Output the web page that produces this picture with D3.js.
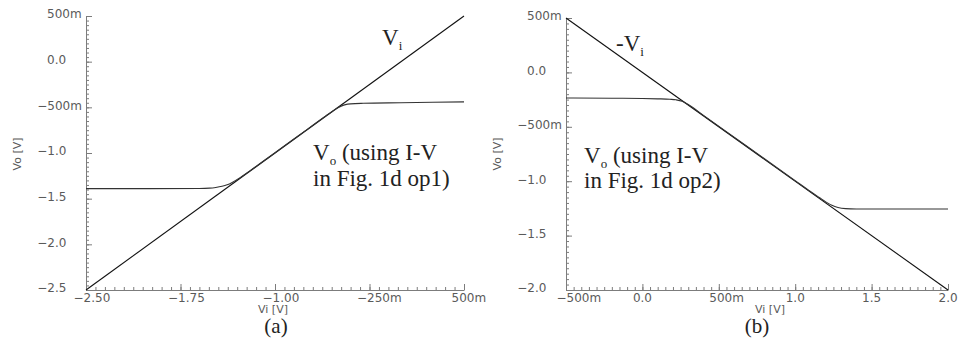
<!DOCTYPE html>
<html><head><meta charset="utf-8">
<script src="https://cdn.jsdelivr.net/npm/d3@7"></script>
<style>
html,body{margin:0;padding:0;background:#fff;}
svg{display:block;}
</style></head>
<body>
<svg id="c" width="962" height="351"></svg>
<script>
// ---- Panel (a) data ----
const aRefX = [-2.5, 0.5];
const aRefY = [-2.5, 0.5];
const aVoX = [-2.5, -2.0, -1.6, -1.52, -1.47, -1.42, -1.38, -1.34, -1.28, -1.2, -1.0, -0.8, -0.6, -0.54, -0.5, -0.47, -0.44, -0.4, -0.3, 0.0, 0.25, 0.5];
const aVoY = [-1.39, -1.39, -1.388, -1.385, -1.378, -1.365, -1.348, -1.322, -1.272, -1.196, -0.997, -0.797, -0.597, -0.54, -0.505, -0.484, -0.47, -0.462, -0.456, -0.45, -0.445, -0.44];
const aXTicks = [-2.5, -1.75, -1.0, -0.25, 0.5];
const aXLabels = ["\u22122.50", "\u22121.75", "\u22121.00", "\u2212250m", "500m"];
const aYTicks = [-2.5, -2.0, -1.5, -1.0, -0.5, 0.0, 0.5];
const aYLabels = ["\u22122.5", "\u22122.0", "\u22121.5", "\u22121.0", "\u2212500m", "0.0", "500m"];

// ---- Panel (b) data ----
const bRefX = [-0.5, 2.0];
const bRefY = [0.5, -2.0];
const bVoX = [-0.5, -0.2, 0.0, 0.1, 0.18, 0.22, 0.26, 0.3, 0.4, 0.7, 1.0, 1.1, 1.16, 1.2, 1.24, 1.28, 1.33, 1.4, 1.6, 2.0];
const bVoY = [-0.235, -0.237, -0.24, -0.243, -0.247, -0.252, -0.265, -0.295, -0.395, -0.695, -0.995, -1.095, -1.152, -1.19, -1.222, -1.242, -1.252, -1.255, -1.256, -1.256];
const bXTicks = [-0.5, 0.0, 0.5, 1.0, 1.5, 2.0];
const bXLabels = ["\u2212500m", "0.0", "500m", "1.0", "1.5", "2.0"];
const bYTicks = [-2.0, -1.5, -1.0, -0.5, 0.0, 0.5];
const bYLabels = ["\u22122.0", "\u22121.5", "\u22121.0", "\u2212500m", "0.0", "500m"];

const svg = d3.select("#c");
const AX = "#7c7c7c", LBL = "#5a5a5a";

function minorTicks(lo, hi, step){
  const out=[]; const n=Math.round((hi-lo)/step);
  for(let i=0;i<=n;i++) out.push(+(lo+i*step).toFixed(6));
  return out;
}

function panel(cfg){
  const x = d3.scaleLinear().domain(cfg.xd).range(cfg.xr);
  const y = d3.scaleLinear().domain(cfg.yd).range(cfg.yr);
  const g = svg.append("g");
  const y0 = cfg.yr[0], x0 = cfg.xr[0];

  // minor ticks
  g.append("g").attr("transform",`translate(0,${y0})`)
    .call(d3.axisBottom(x).tickValues(minorTicks(cfg.xd[0],cfg.xd[1],cfg.xMinor)).tickSize(-3).tickSizeOuter(0).tickFormat(""))
    .call(s=>{s.selectAll("line").attr("stroke",AX); s.select(".domain").remove();});
  g.append("g").attr("transform",`translate(${x0},0)`)
    .call(d3.axisLeft(y).tickValues(minorTicks(cfg.yd[0],cfg.yd[1],cfg.yMinor)).tickSize(-3).tickSizeOuter(0).tickFormat(""))
    .call(s=>{s.selectAll("line").attr("stroke",AX); s.select(".domain").remove();});

  // major x axis
  const gx = g.append("g").attr("transform",`translate(0,${y0})`)
    .call(d3.axisBottom(x).tickValues(cfg.xTicks).tickSize(-6).tickSizeOuter(0)
      .tickFormat((d,i)=>cfg.xLabels[i]));
  gx.select(".domain").attr("stroke",AX);
  gx.selectAll("line").attr("stroke",AX);
  gx.selectAll("text").attr("fill",LBL).attr("font-family","DejaVu Sans").attr("font-size",12)
    .attr("text-anchor","start").attr("x",cfg.xLabDx).attr("y",3.5).attr("dy","0.71em");

  // major y axis
  const gy = g.append("g").attr("transform",`translate(${x0},0)`)
    .call(d3.axisLeft(y).tickValues(cfg.yTicks).tickSize(-6).tickSizeOuter(0)
      .tickFormat((d,i)=>cfg.yLabels[i]));
  gy.select(".domain").attr("stroke",AX);
  gy.selectAll("line").attr("stroke",AX);
  gy.selectAll("text").attr("fill",LBL).attr("font-family","DejaVu Sans").attr("font-size",12)
    .attr("text-anchor","start").attr("dy","0.15em")
    .attr("x",function(){
      const t=d3.select(this).text();
      return t.startsWith("\u2212") ? -39-9.8 : -39;
    });

  // axis titles
  g.append("text").attr("x",cfg.xTitleX).attr("y",313).attr("font-family","DejaVu Sans").attr("font-size",11)
    .attr("fill",LBL).text("Vi [V]");
  g.append("text").attr("transform",`translate(${cfg.yTitleX},154) rotate(-90)`).attr("text-anchor","middle")
    .attr("font-family","DejaVu Sans").attr("font-size",11).attr("fill",LBL).text("Vo [V]");

  // lines
  const line = d3.line().x(d=>x(d[0])).y(d=>y(d[1])).curve(d3.curveMonotoneX);
  g.append("path").datum(cfg.refX.map((v,i)=>[v,cfg.refY[i]])).attr("d",d3.line().x(d=>x(d[0])).y(d=>y(d[1])))
    .attr("fill","none").attr("stroke","#111").attr("stroke-width",1.1);
  g.append("path").datum(cfg.voX.map((v,i)=>[v,cfg.voY[i]])).attr("d",line)
    .attr("fill","none").attr("stroke","#333").attr("stroke-width",1.1);

  // panel label
  g.append("text").attr("x",cfg.capX).attr("y",333).attr("text-anchor","middle")
    .attr("font-family","Liberation Serif").attr("font-size",21).attr("fill","#222").text(cfg.cap);
  return g;
}

const ga = panel({xd:[-2.5,0.5], xr:[86,464], yd:[-2.5,0.5], yr:[290,16], xMinor:0.075, yMinor:0.05,
  xTicks:aXTicks, xLabels:aXLabels, yTicks:aYTicks, yLabels:aYLabels, xLabDx:-13,
  xTitleX:258, yTitleX:21, refX:aRefX, refY:aRefY, voX:aVoX, voY:aVoY, capX:276, cap:"(a)"});
const gb = panel({xd:[-0.5,2.0], xr:[566,948], yd:[-2.0,0.5], yr:[290,18], xMinor:0.05, yMinor:0.05,
  xTicks:bXTicks, xLabels:bXLabels, yTicks:bYTicks, yLabels:bYLabels, xLabDx:-10,
  xTitleX:755, yTitleX:501, refX:bRefX, refY:bRefY, voX:bVoX, voY:bVoY, capX:757, cap:"(b)"});

function annot(g, x, y, main, sub, rest, size){
  const t = g.append("text").attr("x",x).attr("y",y).attr("font-family","Liberation Serif")
    .attr("font-size",size).attr("fill","#222");
  t.append("tspan").text(main);
  t.append("tspan").attr("font-size",13).attr("dy",5).text(sub);
  if(rest) t.append("tspan").attr("dy",-5).text(rest);
  return t;
}
function plain(g, x, y, txt, size){
  g.append("text").attr("x",x).attr("y",y).attr("font-family","Liberation Serif")
    .attr("font-size",size).attr("fill","#222").text(txt);
}
annot(ga, 382, 45, "V", "i", null, 23);
annot(ga, 313, 160, "V", "o", " (using I-V", 23);
plain(ga, 313, 186, "in Fig. 1d op1)", 23);
annot(gb, 616, 51, "-V", "i", null, 23);
annot(gb, 584, 163, "V", "o", " (using I-V", 23);
plain(gb, 584, 188, "in Fig. 1d op2)", 23);
</script>
</body></html>
